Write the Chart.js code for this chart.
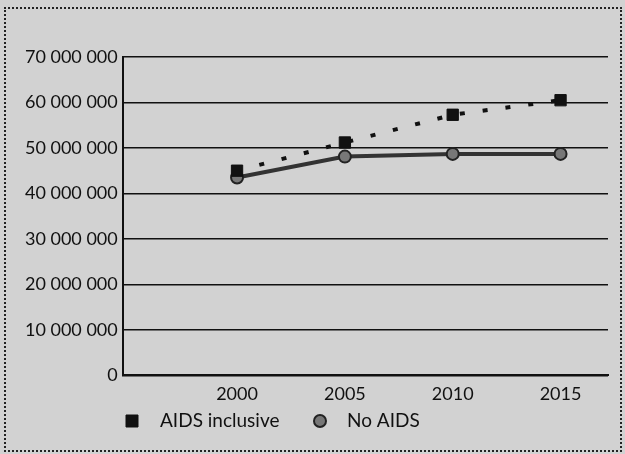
<!DOCTYPE html>
<html>
<head>
<meta charset="utf-8">
<script src="https://cdn.jsdelivr.net/npm/chart.js@4/dist/chart.umd.min.js"></script>
<style>
  html, body { margin: 0; padding: 0; background: #d2d2d2; }
  #wrap { position: relative; width: 625px; height: 454px; }
  #frame { position: absolute; left: 4px; top: 7px; width: 614px; height: 441px; border: 2px dotted #222; }
  canvas { position: absolute; left: 0; top: 0; }
</style>
</head>
<body>
<div id="wrap">
  <div id="frame"></div>
  <canvas id="popChart" width="625" height="454"></canvas>
</div>
<script>
// 数据
const years = [2000, 2005, 2010, 2015];
const aidsInclusive = [45000000, 51200000, 57300000, 60500000];
const noAids = [43500000, 48100000, 48700000, 48700000];
const xTicks = [2000, 2005, 2010, 2015];
const yTicks = [0, 10000000, 20000000, 30000000, 40000000, 50000000, 60000000, 70000000];

function fmt(v) {
    return String(v).replace(/\B(?=(\d{3})+(?!\d))/g, ' ');
}

// 自己画图例（放在左下）
const bottomLegend = {
    id: 'bottomLegend',
    afterDraw(chart) {
        const c = chart.ctx;
        const y = 421;
        const items = [
            { ds: chart.data.datasets[0], mx: 132, tx: 160 },
            { ds: chart.data.datasets[1], mx: 320, tx: 347 }
        ];
        c.save();
        c.font = '19px Lato';
        c.textBaseline = 'middle';
        items.forEach(it => {
            c.fillStyle = it.ds.pointBackgroundColor;
            c.strokeStyle = it.ds.pointBorderColor;
            c.lineWidth = it.ds.pointBorderWidth || 1;
            c.beginPath();
            if (it.ds.pointStyle === 'rect') {
                c.rect(it.mx - 6, y - 6, 12, 12);
            } else {
                c.arc(it.mx, y, 6, 0, Math.PI * 2);
            }
            c.fill();
            c.stroke();
            c.fillStyle = '#111';
            c.fillText(it.ds.label, it.tx, y);
        });
        c.restore();
    }
};

const ctx = document.getElementById('popChart').getContext('2d');
new Chart(ctx, {
    type: 'line',
    data: {
        datasets: [
            {
                label: 'AIDS inclusive',
                data: years.map((y, i) => ({ x: y, y: aidsInclusive[i] })),
                borderColor: '#111',
                backgroundColor: '#111',
                borderWidth: 4,
                borderDash: [5, 18],
                pointStyle: 'rect',
                pointRadius: 8,
                pointBorderWidth: 1,
                pointBackgroundColor: '#111',
                pointBorderColor: '#111',
                tension: 0
            },
            {
                label: 'No AIDS',
                data: years.map((y, i) => ({ x: y, y: noAids[i] })),
                borderColor: '#333',
                backgroundColor: '#777',
                borderWidth: 4,
                pointStyle: 'circle',
                pointRadius: 6,
                pointBorderWidth: 2,
                pointBackgroundColor: '#777',
                pointBorderColor: '#222',
                tension: 0
            }
        ]
    },
    options: {
        responsive: false,
        animation: false,
        layout: { padding: { left: 20, right: 17, top: 57, bottom: 41 } },
        scales: {
            x: {
                type: 'linear',
                min: 1994.7,
                max: 2017.2,
                afterBuildTicks: s => { s.ticks = xTicks.map(v => ({ value: v })); },
                grid: { display: false, drawTicks: false },
                border: { display: true, color: '#111', width: 2 },
                ticks: {
                    color: '#111',
                    font: { family: 'Lato', size: 18 },
                    padding: 8,
                    callback: v => String(v)
                }
            },
            y: {
                min: 0,
                max: 70000000,
                afterBuildTicks: s => { s.ticks = yTicks.map(v => ({ value: v })); },
                grid: { color: '#111', lineWidth: 1.5, drawTicks: false },
                border: { display: true, color: '#111', width: 2 },
                ticks: {
                    color: '#111',
                    font: { family: 'Lato', size: 18 },
                    padding: 5,
                    callback: v => fmt(v)
                }
            }
        },
        plugins: {
            legend: { display: false },
            tooltip: { enabled: false }
        }
    },
    plugins: [bottomLegend]
});
</script>
</body>
</html>
